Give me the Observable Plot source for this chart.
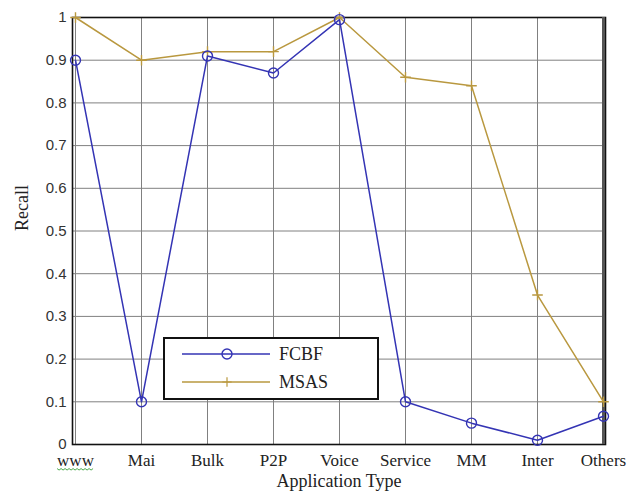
<!DOCTYPE html>
<html>
<head>
<meta charset="utf-8">
<script src="https://cdn.jsdelivr.net/npm/d3@7"></script>
<script src="https://cdn.jsdelivr.net/npm/@observablehq/plot@0.6"></script>
<style>
  html, body { margin: 0; padding: 0; background: #fff; }
  #wrap { position: relative; width: 636px; height: 497px; }
  #legend { position: absolute; left: 0; top: 0; }
  .serif, .serif text { font-family: "Liberation Serif", "Times New Roman", serif !important; }
  .sans, .sans text { font-family: "Liberation Sans", Arial, sans-serif !important; }
</style>
</head>
<body>
<div id="wrap"></div>
<script>
// Application types on the x axis
const categories = ["www", "Mai", "Bulk", "P2P", "Voice", "Service", "MM", "Inter", "Others"];
// Recall per application type for each method
const fcbf = [0.90, 0.10, 0.91, 0.87, 0.995, 0.10, 0.05, 0.01, 0.066];
const msas = [1.00, 0.90, 0.92, 0.92, 1.00, 0.86, 0.84, 0.35, 0.10];
const yTicks = [0, 0.1, 0.2, 0.3, 0.4, 0.5, 0.6, 0.7, 0.8, 0.9, 1];
const seriesNames = ["FCBF", "MSAS"];

const blue = "#3434b4";
const gold = "#b9983f";

const rowsF = categories.map((c, i) => ({type: c, recall: fcbf[i]}));
const rowsM = categories.map((c, i) => ({type: c, recall: msas[i]}));

const chart = Plot.plot({
  width: 636,
  height: 497,
  marginLeft: 72,
  marginRight: 31,
  marginTop: 17,
  marginBottom: 53,
  style: {background: "#fff", overflow: "visible"},
  x: {type: "point", domain: categories, padding: 0},
  y: {domain: [0, 1]},
  marks: [
    Plot.gridX(categories, {stroke: "#808080", strokeOpacity: 1, strokeWidth: 1}),
    Plot.gridY(yTicks, {stroke: "#808080", strokeOpacity: 1, strokeWidth: 1}),
    Plot.axisY(yTicks, {
      tickSize: 0, tickPadding: 6, label: null,
      tickFormat: d => String(d),
      fontSize: 15, fill: "#333", className: "sans"
    }),
    Plot.axisX(categories, {
      tickSize: 0, tickPadding: 9, label: null,
      fontSize: 17, fill: "#222", className: "serif"
    }),
    Plot.frame({stroke: "#111", strokeWidth: 1.6}),
    Plot.ruleX([categories[categories.length - 1]], {stroke: "#555", strokeWidth: 3}),
    Plot.text(["Recall"], {
      frameAnchor: "left", dx: -50, rotate: -90,
      fontSize: 18, fill: "#222", className: "serif"
    }),
    Plot.text(["Application Type"], {
      frameAnchor: "bottom", dy: 42,
      fontSize: 18, fill: "#222", className: "serif"
    }),
    Plot.line(rowsM, {x: "type", y: "recall", stroke: gold, strokeWidth: 1.5}),
    Plot.dot(rowsM, {x: "type", y: "recall", symbol: "plus", r: 3.5, stroke: gold, strokeWidth: 1.4}),
    Plot.line(rowsF, {x: "type", y: "recall", stroke: blue, strokeWidth: 1.5}),
    Plot.dot(rowsF, {x: "type", y: "recall", symbol: "circle", r: 5, stroke: blue, strokeWidth: 1.4, fill: "none"})
  ]
});

document.getElementById("wrap").appendChild(chart);

// Green spell-check squiggle under the "www" label, sized from the label's box
d3.select(chart).selectAll(".serif text")
  .filter(function () { return this.textContent === "www"; })
  .each(function () {
    const b = this.getBBox();
    const m = this.getCTM();
    const x0 = m.e + m.a * b.x, x1 = x0 + b.width;
    const y0 = m.f + b.y + b.height - 1;
    const pts = [];
    for (let x = x0, k = 0; x <= x1; x += 2, k++) pts.push([x, y0 + (k % 2 ? 1.5 : 0)]);
    d3.select(chart).append("path")
      .attr("d", d3.line()(pts))
      .attr("fill", "none").attr("stroke", "#4aa84a").attr("stroke-width", 1);
  });

// Legend box inside the plot area
const legend = d3.select("#wrap").append("svg")
  .attr("id", "legend")
  .attr("width", 636).attr("height", 497)
  .style("pointer-events", "none");
const lg = legend.append("g").attr("transform", "translate(164,338)");
lg.append("rect").attr("x", 0).attr("y", 0).attr("width", 214).attr("height", 61)
  .attr("fill", "#fff").attr("stroke", "#111").attr("stroke-width", 2);
const colors = [blue, gold];
seriesNames.forEach((name, i) => {
  const y = 16 + i * 28;
  lg.append("line").attr("x1", 18).attr("x2", 106).attr("y1", y).attr("y2", y)
    .attr("stroke", colors[i]).attr("stroke-width", 1.5);
  if (i === 0) {
    lg.append("circle").attr("cx", 63).attr("cy", y).attr("r", 5)
      .attr("fill", "none").attr("stroke", colors[i]).attr("stroke-width", 1.4);
  } else {
    lg.append("path").attr("d", d3.symbol(d3.symbolPlus, 30)())
      .attr("transform", `translate(63,${y})`)
      .attr("fill", "none").attr("stroke", colors[i]).attr("stroke-width", 1.2);
  }
  lg.append("text").attr("class", "serif").attr("x", 115).attr("y", y).attr("dy", "0.35em")
    .attr("font-size", 18).attr("fill", "#222")
    .text(name);
});
</script>
</body>
</html>
